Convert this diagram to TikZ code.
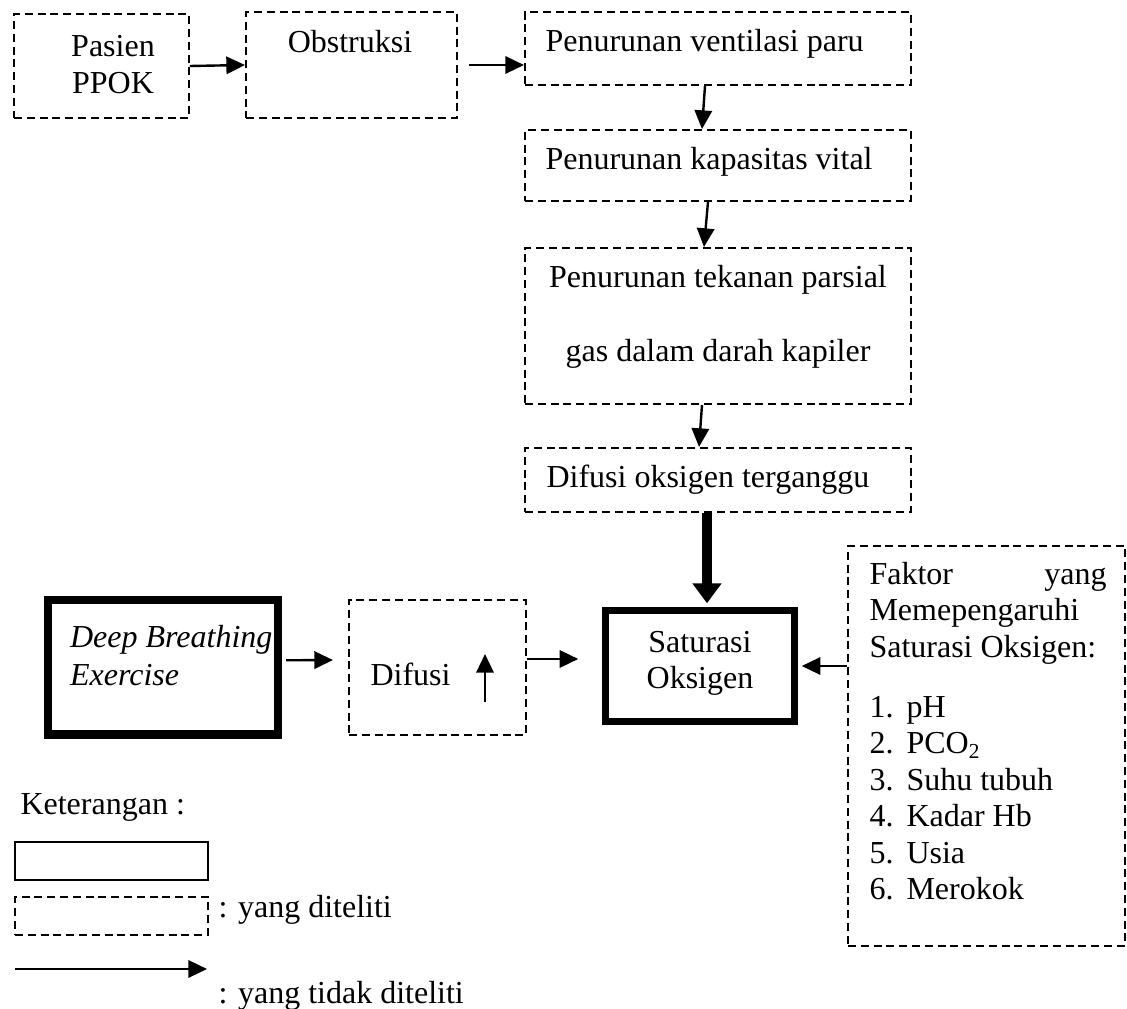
\documentclass[tikz,border=0pt]{standalone}
\usepackage{fontspec}
\setmainfont{Liberation Serif}
\usetikzlibrary{arrows.meta,calc}
\begin{document}
\begin{tikzpicture}[x=0.375pt,y=-0.375pt,
  font=\fontsize{12pt}{13.8pt}\selectfont,
  dbox/.style={draw, dash pattern=on 3pt off 1.8pt, line width=0.75pt, inner sep=0pt},
  tbox/.style={draw, line width=2.7pt, inner sep=0pt},
  sbox/.style={draw, line width=0.6pt, inner sep=0pt},
  arr/.style={-{Triangle[length=7pt,width=6.5pt]}, line width=0.9pt},
  bigarr/.style={-{Triangle[length=7.5pt,width=10.5pt]}, line width=3.4pt},
  txt/.style={inner sep=0pt, anchor=base west},
  ctxt/.style={inner sep=0pt, anchor=base}]
\useasboundingbox (0,0) rectangle (1127,1009);

% boxes
\node[dbox, minimum width=65.6pt, minimum height=39pt] (b1) at (101.5,66) {};
\node[dbox, minimum width=79.1pt, minimum height=39.75pt] (b2) at (351.5,65) {};
\node[dbox, minimum width=144.75pt, minimum height=27.4pt] (b3) at (718,48.5) {};
\node[dbox, minimum width=144.75pt, minimum height=26.6pt] (b4) at (718,165.5) {};
\node[dbox, minimum width=144.75pt, minimum height=58.5pt] (b5) at (718,326) {};
\node[dbox, minimum width=144.75pt, minimum height=24pt] (b6) at (718,480) {};
\node[tbox, line width=2.8pt, minimum width=70.9pt, minimum height=41.6pt] (sat) at (700,666) {};
\node[tbox, line width=3.1pt, minimum width=86.4pt, minimum height=50.4pt] (deep) at (162.9,667.3) {};
\node[dbox, minimum width=66.4pt, minimum height=50.6pt] (dif) at (437.5,667.5) {};
\node[dbox, minimum width=103.9pt, minimum height=150pt] (rbox) at (986.5,746) {};
\node[sbox, minimum width=72.4pt, minimum height=14.25pt] (leg1) at (111.5,861) {};
\node[dbox, minimum width=72.4pt, minimum height=14.25pt] (leg2) at (111.5,916) {};

% texts
\node[ctxt] (t1a) at (113,57) {Pasien};
\node[ctxt] (t1b) at (113,94) {PPOK};
\node[ctxt] (t2) at (350,53) {Obstruksi};
\node[txt] (t3) at (545,52) {Penurunan ventilasi paru};
\node[txt] (t4) at (545,170) {Penurunan kapasitas vital};
\node[ctxt] (t5a) at (718,288) {Penurunan tekanan parsial};
\node[ctxt] (t5b) at (718,362) {gas dalam darah kapiler};
\node[txt] (t6) at (546,488) {Difusi oksigen terganggu};
\node[txt] (td1) at (69.6,647) {\itshape Deep Breathing};
\node[txt] (td2) at (69.6,686) {\itshape Exercise};
\node[txt] (tdif) at (370,685) {Difusi};
\node[ctxt] (ts1) at (700,653) {Saturasi};
\node[ctxt] (ts2) at (700,689) {Oksigen};
\node[txt] (r1) at (869,585) {\makebox[88.9pt][s]{Faktor yang}};
\node[txt] (r2) at (869,621) {Memepengaruhi};
\node[txt] (r3) at (869,657) {Saturasi Oksigen:};
\node[txt] (n1) at (869,717) {1.};
\node[txt] (i1) at (906,717) {pH};
\node[txt] (n2) at (869,753.5) {2.};
\node[txt] (i2) at (906,753.5) {PCO\textsubscript{2}};
\node[txt] (n3) at (869,790) {3.};
\node[txt] (i3) at (906,790) {Suhu tubuh};
\node[txt] (n4) at (869,826.5) {4.};
\node[txt] (i4) at (906,826.5) {Kadar Hb};
\node[txt] (n5) at (869,863) {5.};
\node[txt] (i5) at (906,863) {Usia};
\node[txt] (n6) at (869,899.5) {6.};
\node[txt] (i6) at (906,899.5) {Merokok};
\node[txt] (k0) at (20,815) {Keterangan :};
\node[txt] (k1) at (218,917) {: yang diteliti};
\node[txt] (k2) at (218,1003) {: yang tidak diteliti};

% connectors
\draw[arr] (b1.east) -- (b2.west);
\draw[arr] ($(b2.east)+(11,0)$) -- (b3.west |- b2.east);
\draw[arr] ($(b3.south)+(-13,0)$) -- ($(b4.north)+(-16,0)$);
\draw[arr] ($(b4.south)+(-10,0)$) -- ($(b5.north)+(-14,0)$);
\draw[arr] ($(b5.south)+(-16,0)$) -- ($(b6.north)+(-19,0)$);
\draw[bigarr] ($(b6.south)+(-11,0)$) -- ($(sat.north)+(7,-3.5)$);
\draw[arr] ($(deep.east)+(4,-7)$) -- ($(dif.west)+(-15,-7.5)$);
\draw[arr] ($(dif.east)+(0,-8.5)$) -- ($(sat.west)+(-23.5,-7)$);
\draw[arr] (rbox.west |- sat.east) -- ($(sat.east)+(3.5,0)$);
\coordinate (up1) at (485,702);
\coordinate (up2) at (485,654);
\draw[arr] (up1) -- (up2);
\coordinate (la1) at (15,969);
\coordinate (la2) at (207,969);
\draw[arr] (la1) -- (la2);
\end{tikzpicture}
\end{document}
